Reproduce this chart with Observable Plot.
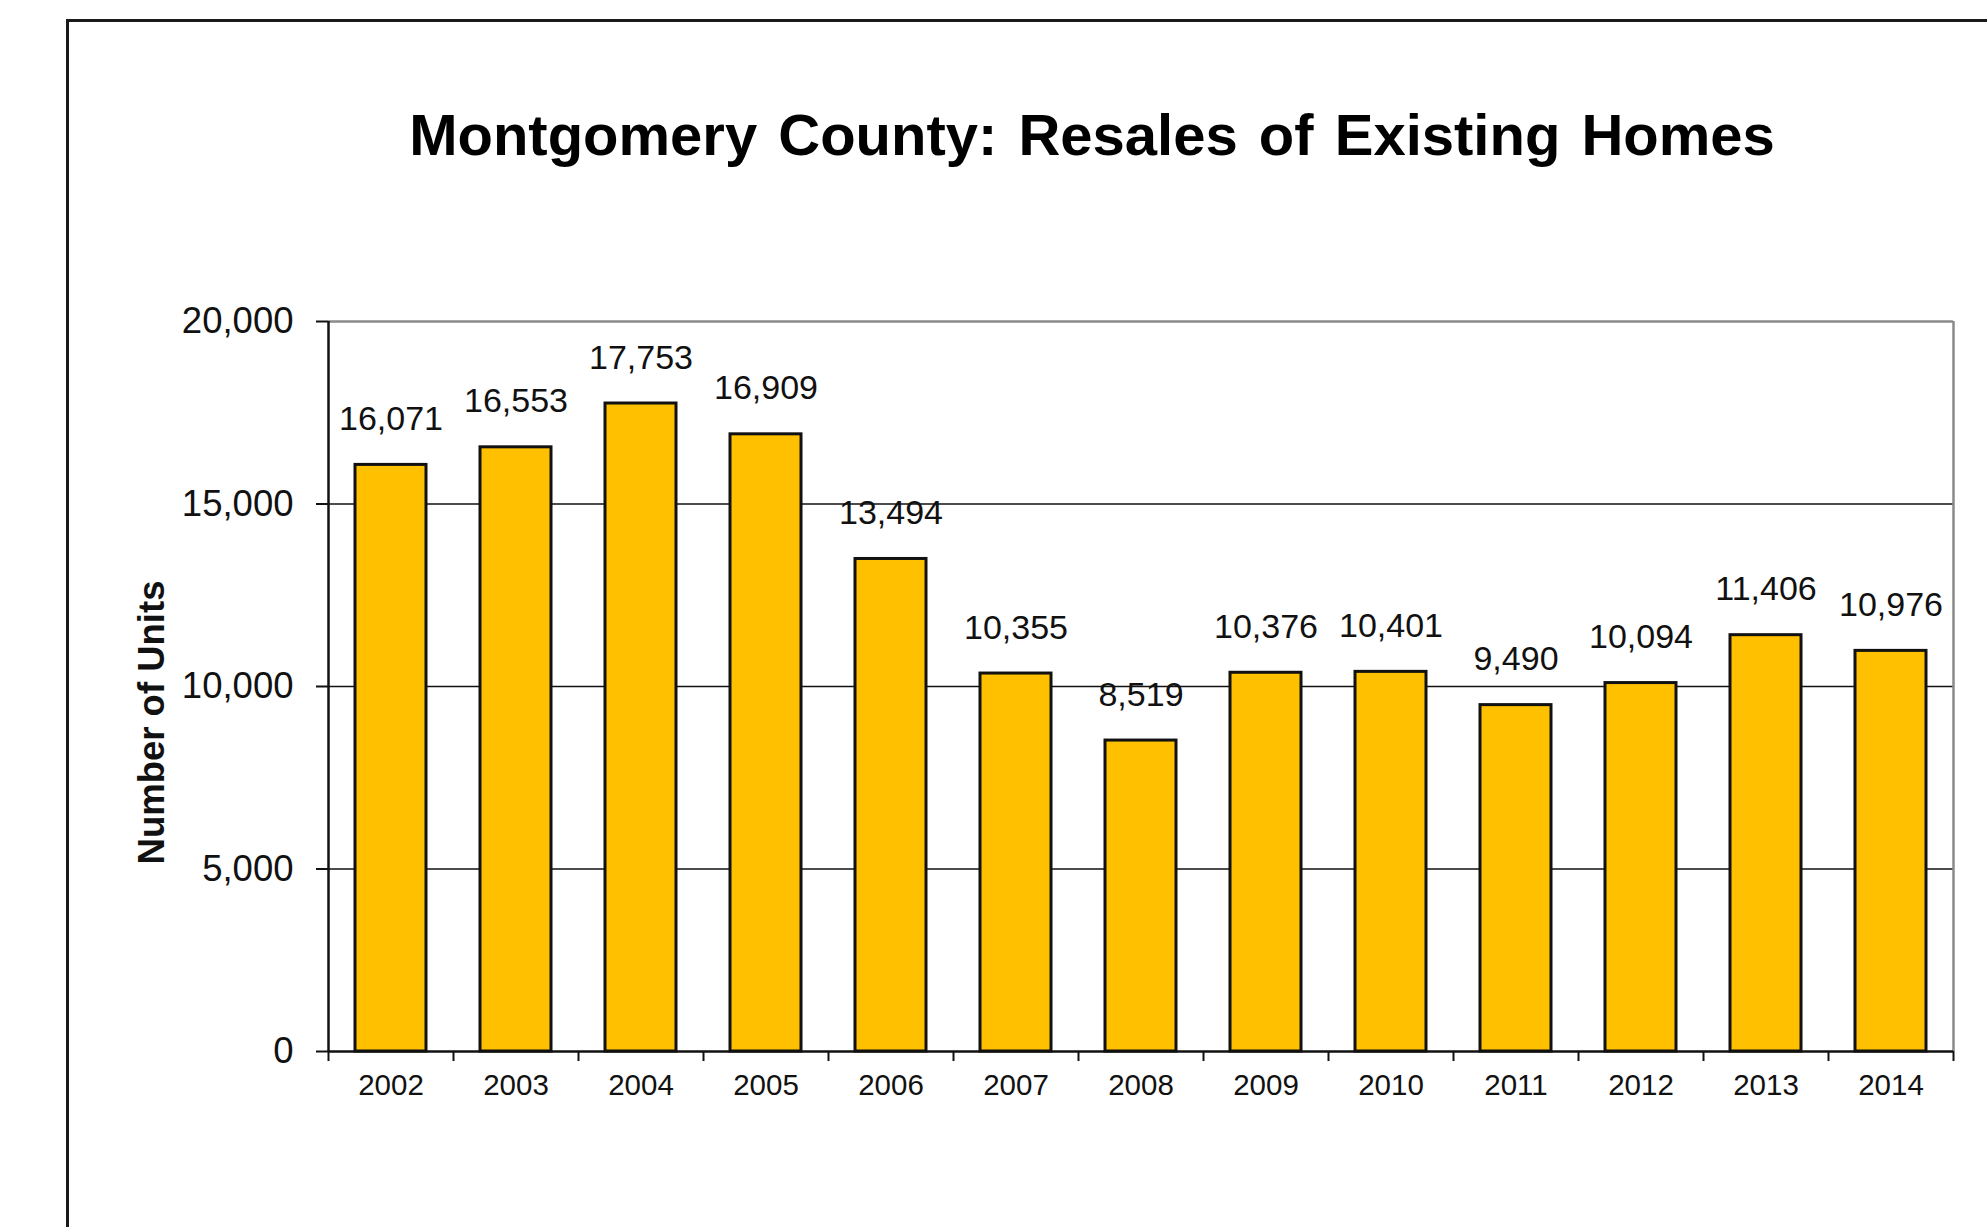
<!DOCTYPE html>
<html>
<head>
<meta charset="utf-8">
<script src="https://cdn.jsdelivr.net/npm/d3@7"></script>
<script src="https://cdn.jsdelivr.net/npm/@observablehq/plot@0.6"></script>
<style>
  html, body { margin: 0; padding: 0; background: #fff; }
  body { width: 1987px; height: 1227px; overflow: hidden; position: relative; font-family: "Liberation Sans", Arial, sans-serif; }
  #frame { position: absolute; left: 66px; top: 19px; width: 2100px; height: 1400px; border: 3px solid #1a1a1a; box-sizing: border-box; }
  #title { position: absolute; left: 1092px; top: 106px; transform: translateX(-50%); white-space: nowrap;
           font-size: 58px; line-height: 58px; font-weight: bold; color: #000; word-spacing: 5px; }
  #chart { position: absolute; left: 0; top: 200px; }
</style>
</head>
<body>
<div id="frame"></div>
<div id="title"></div>
<div id="chart"></div>
<script>
const title = "Montgomery County: Resales of Existing Homes";
const yLabel = "Number of Units";
const years = ["2002", "2003", "2004", "2005", "2006", "2007", "2008", "2009", "2010", "2011", "2012", "2013", "2014"];
const resales = [16071, 16553, 17753, 16909, 13494, 10355, 8519, 10376, 10401, 9490, 10094, 11406, 10976];
const yTicks = [0, 5000, 10000, 15000, 20000];
const gridValues = [5000, 10000, 15000];
const yDomain = [0, 20000];

document.getElementById("title").textContent = title;

const data = years.map((year, i) => ({year, value: resales[i]}));
const fmt = d3.format(",");

const W = 1987, H = 1027, ML = 328, MR = 34, MT = 121, MB = 176;
const step = (W - ML - MR) / years.length;

const chart = Plot.plot({
  width: W, height: H,
  marginLeft: ML, marginRight: MR, marginTop: MT, marginBottom: MB,
  style: {fontFamily: "'Liberation Sans', Arial, sans-serif", color: "#111", background: "transparent", overflow: "visible"},
  x: {domain: years, paddingInner: 0.434, paddingOuter: 0.217, align: 0.5},
  y: {domain: yDomain},
  marks: [
    Plot.ruleY(gridValues, {stroke: "#111", strokeWidth: 1.3}),
    Plot.ruleY([yDomain[1]], {stroke: "#8a8a8a", strokeWidth: 2.5}),
    Plot.ruleX([years[years.length - 1]], {dx: step / 2, stroke: "#8a8a8a", strokeWidth: 2.5}),
    Plot.barY(data, {x: "year", y: "value", fill: "#FFC000", stroke: "#111", strokeWidth: 3}),
    Plot.ruleX([years[0]], {dx: -step / 2, stroke: "#111", strokeWidth: 2.5}),
    Plot.ruleY([0], {stroke: "#111", strokeWidth: 2.5}),
    Plot.axisY({ticks: yTicks, tickSize: 12, tickPadding: 23, tickFormat: fmt, fontSize: 36.5, strokeWidth: 2, label: null}),
    Plot.axisX({tickSize: 0, tickPadding: 23, fontSize: 29.5, label: null}),
    Plot.axisX({tickSize: 10, tickFormat: () => "", dx: -step / 2, strokeWidth: 2, label: null}),
    Plot.axisX({ticks: [years[years.length - 1]], tickSize: 10, tickFormat: () => "", dx: step / 2, strokeWidth: 2, label: null}),
    Plot.text(data, {x: "year", y: "value", text: d => fmt(d.value), dy: -35, lineAnchor: "bottom", fontSize: 34, fill: "#111"}),
    Plot.text([yLabel], {frameAnchor: "left", textAnchor: "middle", rotate: -90, dx: -176, dy: 36, fontSize: 36.5, fontWeight: "bold", fill: "#111"})
  ]
});
document.getElementById("chart").appendChild(chart);
</script>
</body>
</html>
